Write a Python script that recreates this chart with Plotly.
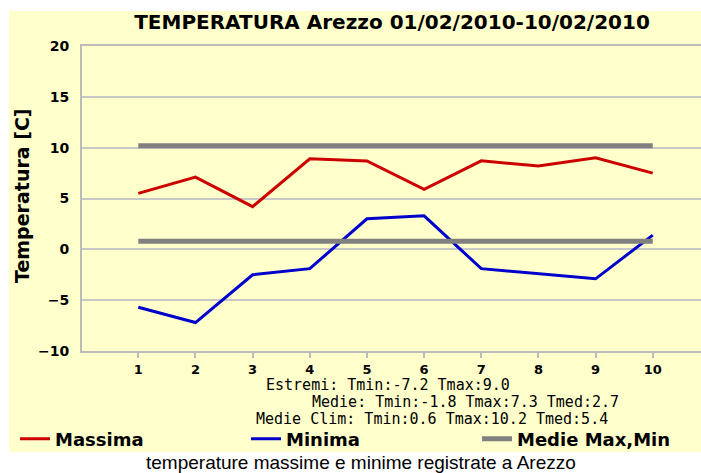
import plotly.graph_objects as go

# ---- data ----
days = [1, 2, 3, 4, 5, 6, 7, 8, 9, 10]
tmax = [5.5, 7.1, 4.2, 8.9, 8.7, 5.9, 8.7, 8.2, 9.0, 7.5]
tmin = [-5.7, -7.2, -2.5, -1.9, 3.0, 3.3, -1.9, -2.4, -2.9, 1.4]
clim_tmax = 10.2
clim_tmin = 0.8
ytick_vals = [-10, -5, 0, 5, 10, 15, 20]
xtick_labels = [str(d) for d in days]

title_text = "TEMPERATURA Arezzo 01/02/2010-10/02/2010"
stats_lines = [
    "Estremi: Tmin:-7.2 Tmax:9.0",
    "Medie: Tmin:-1.8 Tmax:7.3 Tmed:2.7",
    "Medie Clim: Tmin:0.6 Tmax:10.2 Tmed:5.4",
]
caption = "temperature massime e minime registrate a Arezzo"

W, H = 701, 473
L, R, T, B = 82, 0, 46, 122
PW, PH = W - L - R, H - T - B


def px(x):
    return (x - L) / PW


def py(y):
    return (H - B - y) / PH


YELLOW = "#FFFFCC"
BOLD = "DejaVu Sans"

fig = go.Figure()
fig.add_trace(go.Scatter(x=days, y=tmax, mode="lines", name="Massima",
                         line=dict(color="#CC0000", width=3)))
fig.add_trace(go.Scatter(x=days, y=tmin, mode="lines", name="Minima",
                         line=dict(color="#0000CC", width=3)))
fig.add_trace(go.Scatter(x=[days[0], days[-1], None, days[0], days[-1]],
                         y=[clim_tmax, clim_tmax, None, clim_tmin, clim_tmin],
                         mode="lines", name="Medie Max,Min",
                         line=dict(color="#808080", width=5)))

shapes = [dict(type="rect", xref="paper", yref="paper",
               x0=px(9), x1=1.0, y0=py(452), y1=py(11),
               fillcolor=YELLOW, line=dict(width=0), layer="below")]

annotations = [
    dict(text="Temperatura [C]", xref="paper", yref="paper",
         x=px(22), y=py(196), textangle=-90, showarrow=False,
         xanchor="center", yanchor="middle",
         font=dict(family=BOLD, size=19, color="black", weight="bold")),
    dict(text=caption, xref="paper", yref="paper", x=px(361), y=py(462),
         showarrow=False, xanchor="center", yanchor="middle",
         font=dict(family="Liberation Sans", size=19, color="black")),
]
stat_pos = [(388, 385), (465, 402), (432, 419)]
for txt, (cx, cy) in zip(stats_lines, stat_pos):
    annotations.append(dict(text=txt, xref="paper", yref="paper",
                            x=px(cx), y=py(cy), showarrow=False,
                            xanchor="center", yanchor="middle",
                            font=dict(family="DejaVu Sans Mono", size=15,
                                      color="black")))

fig.update_layout(
    width=W, height=H,
    margin=dict(l=L, r=R, t=T, b=B, pad=0, autoexpand=False),
    paper_bgcolor="white", plot_bgcolor=YELLOW,
    title=dict(text=title_text, x=px(392), xref="paper",
               xanchor="center", y=1 - 22 / H, yref="container",
               yanchor="middle",
               font=dict(family=BOLD, size=20, color="black", weight="bold")),
    showlegend=True,
    legend=dict(orientation="h", x=px(15), xanchor="left",
                y=py(439), yanchor="middle", bgcolor="rgba(0,0,0,0)",
                entrywidth=186, entrywidthmode="pixels",
                font=dict(family=BOLD, size=18, color="black", weight="bold"),
                itemclick=False),
    shapes=shapes, annotations=annotations,
)
fig.update_xaxes(range=[0.015, 10.844], tickvals=days, ticktext=xtick_labels,
                 ticks="outside", ticklen=5, tickwidth=2, tickcolor="#BBBBBB",
                 ticklabelstandoff=0,
                 showgrid=False, zeroline=False,
                 showline=True, linecolor="#BBBBBB", linewidth=2, mirror=True,
                 tickfont=dict(family=BOLD, size=13, color="black",
                               weight="bold"))
fig.update_yaxes(range=[-10, 20], tickvals=ytick_vals,
                 ticks="", ticklabelstandoff=8,
                 showgrid=True, gridcolor="#C8C8C8", gridwidth=2,
                 zeroline=False,
                 showline=True, linecolor="#BBBBBB", linewidth=2,
                 tickfont=dict(family=BOLD, size=14, color="black",
                               weight="bold"))

fig.write_html("out.html",
               config={"displayModeBar": False},
               post_script="document.body.style.margin='0';"
                           "document.body.style.overflow='hidden';")
